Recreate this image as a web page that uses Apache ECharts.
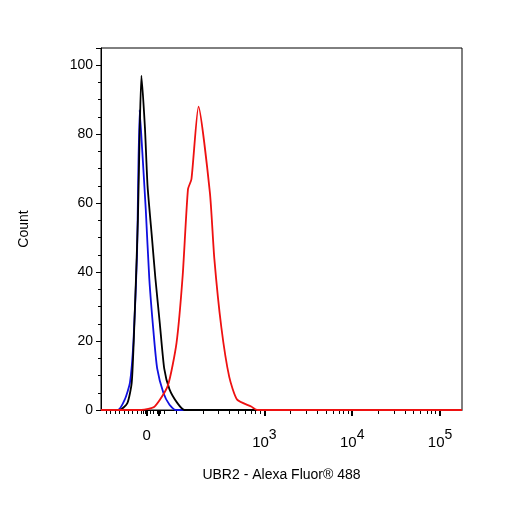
<!DOCTYPE html><html><head><meta charset="utf-8">
<script src="https://cdn.jsdelivr.net/npm/echarts@6/dist/echarts.min.js"></script>
<style>html,body{margin:0;background:#fff}#c{width:506px;height:506px}</style></head><body><div id="c"></div><script>
const blackSeries=[[1.14,0],[1.35,0],[1.44,2],[1.49,8],[1.52,25],[1.56,55],[1.58,80],[1.60,97],[1.64,82],[1.67,65],[1.72,50],[1.76,38],[1.81,25],[1.86,12],[1.92,6],[2.01,2],[2.09,0],[5.25,0]];
const blueSeries=[[1.14,0],[1.33,0],[1.41,3],[1.47,8],[1.51,20],[1.55,45],[1.58,87],[1.61,75],[1.65,58],[1.69,38],[1.74,22],[1.78,12],[1.85,5],[1.92,1.5],[1.99,0],[5.25,0]];
const redSeries=[[1.14,0],[1.60,0],[1.75,1],[1.90,7],[2.00,19.5],[2.07,39],[2.13,64],[2.17,67],[2.25,88],[2.38,63],[2.43,44],[2.51,24],[2.60,9.6],[2.69,3],[2.85,1],[2.92,0],[5.25,0]];
const xLabelValues=[1.66,3,4,5];
const xLabelTexts=['0','10{s|3}','10{s|4}','10{s|5}'];
const majorTicks=[1.66,1.8,3,4,5];
const minorTicks=[];
[1.2,1.25,1.3,1.35,1.4,1.45,1.5,1.55,1.6,1.62,1.64,1.7,1.74,1.78,1.82,1.86].forEach(v=>minorTicks.push(v));
[2,2.3,2.48,2.6,2.7,2.78,2.85,2.9,2.95,3,3.3,3.48,3.6,3.7,3.78,3.85,3.9,3.95,4,4.3,4.48,4.6,4.7,4.78,4.85,4.9,4.95,5].forEach(v=>minorTicks.push(v));
const F='Liberation Sans';
const chart=echarts.init(document.getElementById('c'));
const line=(d,c)=>({type:'line',data:d,smooth:0.2,symbol:'none',lineStyle:{color:c,width:1.8},animation:false});
chart.setOption({
 grid:{left:101,right:44,top:48,bottom:96,show:true,borderColor:'#000',borderWidth:1},
 xAxis:[{type:'value',min:1.14,max:5.25,splitLine:{show:false},
  axisLine:{show:true,onZero:false,lineStyle:{color:'#000'}},
  axisTick:{show:true,customValues:majorTicks,length:6,lineStyle:{color:'#000',width:2}},
  axisLabel:{customValues:xLabelValues,formatter:(v)=>xLabelTexts[xLabelValues.findIndex(x=>Math.abs(x-v)<1e-6)],
   color:'#000',fontFamily:F,fontSize:15,margin:18,rich:{s:{fontSize:14,verticalAlign:'top',padding:[0,0,16,0],fontFamily:F,color:'#000'}}},
  name:'UBR2 - Alexa Fluor® 488',nameLocation:'middle',nameGap:58,nameTextStyle:{color:'#000',fontFamily:F,fontSize:14}},
  {type:'value',min:1.14,max:5.25,position:'bottom',axisLine:{show:false},splitLine:{show:false},axisLabel:{show:false},
  axisTick:{show:true,customValues:minorTicks,length:4,lineStyle:{color:'#000'}}}],
 yAxis:{type:'value',min:0,max:105,interval:20,splitLine:{show:false},
  axisLine:{show:true,lineStyle:{color:'#000'}},axisTick:{show:true,length:5,lineStyle:{color:'#000'}},
  minorTick:{show:true,splitNumber:4,length:3,lineStyle:{color:'#000'}},
  axisLabel:{color:'#000',fontFamily:F,fontSize:14,formatter:v=>v>100?'':v},
  name:'Count',nameLocation:'middle',nameGap:70,nameTextStyle:{color:'#000',fontFamily:F,fontSize:14}},
 series:[line(blueSeries,'#1010e0'),line(blackSeries,'#000'),line(redSeries,'#ee1111')]
});
</script></body></html>
